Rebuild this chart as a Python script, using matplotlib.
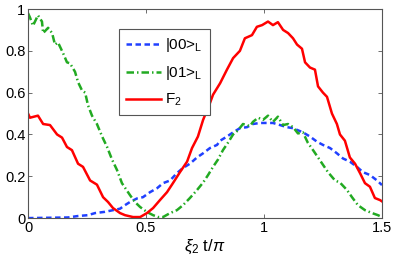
import matplotlib
matplotlib.use("Agg")
import matplotlib.pyplot as plt

plt.rcParams["font.family"] = ["Liberation Sans", "DejaVu Sans"]
plt.rcParams["mathtext.fontset"] = "custom"
plt.rcParams["mathtext.rm"] = "Liberation Sans"
plt.rcParams["mathtext.it"] = "Liberation Sans:italic"

# F2 (red, solid)
tF = [0.000, 0.008, 0.042, 0.064, 0.093, 0.123, 0.144, 0.165, 0.186, 0.212,
      0.233, 0.263, 0.292, 0.318, 0.339, 0.360, 0.390, 0.411, 0.445, 0.475,
      0.504, 0.530, 0.559, 0.589, 0.614, 0.644, 0.674, 0.695, 0.720, 0.742,
      0.771, 0.784, 0.814, 0.843, 0.869, 0.898, 0.919, 0.949, 0.970, 0.992,
      1.017, 1.038, 1.059, 1.081, 1.102, 1.123, 1.140, 1.161, 1.174, 1.195,
      1.216, 1.229, 1.250, 1.267, 1.288, 1.309, 1.322, 1.343, 1.364, 1.386,
      1.407, 1.428, 1.449, 1.470, 1.492, 1.500]
F2 = [0.50, 0.48, 0.49, 0.45, 0.445, 0.40, 0.385, 0.34, 0.325, 0.26,
      0.245, 0.18, 0.16, 0.10, 0.077, 0.048, 0.024, 0.014, 0.005, 0.005,
      0.024, 0.048, 0.086, 0.124, 0.167, 0.22, 0.27, 0.335, 0.39, 0.47,
      0.55, 0.59, 0.645, 0.71, 0.765, 0.80, 0.86, 0.875, 0.915, 0.923,
      0.94, 0.923, 0.937, 0.90, 0.885, 0.86, 0.83, 0.81, 0.745, 0.72,
      0.71, 0.63, 0.60, 0.58, 0.50, 0.45, 0.40, 0.37, 0.29, 0.26,
      0.215, 0.167, 0.15, 0.096, 0.086, 0.08]

# |01>_L (green, dash-dot)
t01 = [0.000, 0.008, 0.021, 0.042, 0.059, 0.064, 0.085, 0.102, 0.114, 0.127,
       0.148, 0.165, 0.178, 0.199, 0.212, 0.229, 0.242, 0.254, 0.271, 0.292,
       0.314, 0.335, 0.356, 0.377, 0.398, 0.432, 0.453, 0.475, 0.504, 0.530,
       0.551, 0.572, 0.602, 0.631, 0.657, 0.686, 0.716, 0.742, 0.763, 0.784,
       0.805, 0.826, 0.847, 0.869, 0.890, 0.911, 0.941, 0.953, 0.975, 0.996,
       1.017, 1.038, 1.059, 1.081, 1.102, 1.123, 1.144, 1.165, 1.186, 1.208,
       1.229, 1.250, 1.271, 1.301, 1.322, 1.352, 1.373, 1.398, 1.428, 1.458,
       1.483, 1.500]
P01 = [0.98, 0.96, 0.92, 0.97, 0.94, 0.885, 0.91, 0.885, 0.83, 0.84,
       0.79, 0.745, 0.74, 0.70, 0.65, 0.61, 0.60, 0.54, 0.49, 0.45,
       0.39, 0.34, 0.28, 0.23, 0.167, 0.11, 0.077, 0.053, 0.029, 0.014,
       0.005, 0.005, 0.024, 0.038, 0.062, 0.096, 0.134, 0.17, 0.206, 0.245,
       0.28, 0.325, 0.36, 0.40, 0.42, 0.45, 0.44, 0.46, 0.48, 0.47,
       0.49, 0.46, 0.485, 0.445, 0.45, 0.435, 0.405, 0.41, 0.36, 0.325,
       0.29, 0.255, 0.22, 0.18, 0.17, 0.134, 0.10, 0.062, 0.038, 0.024,
       0.014, 0.005]

# |00>_L (blue, dashed)
t00 = [0.000, 0.169, 0.212, 0.254, 0.284, 0.326, 0.369, 0.390, 0.411, 0.432,
       0.462, 0.487, 0.517, 0.547, 0.572, 0.602, 0.631, 0.657, 0.686, 0.716,
       0.742, 0.771, 0.801, 0.814, 0.843, 0.869, 0.898, 0.928, 0.953, 0.983,
       1.013, 1.038, 1.068, 1.097, 1.123, 1.165, 1.195, 1.225, 1.250, 1.280,
       1.309, 1.335, 1.364, 1.394, 1.419, 1.449, 1.479, 1.500]
P00 = [0.0, 0.003, 0.01, 0.014, 0.024, 0.03, 0.04, 0.045, 0.062, 0.077,
       0.094, 0.10, 0.124, 0.143, 0.167, 0.18, 0.215, 0.24, 0.26, 0.29,
       0.31, 0.335, 0.35, 0.37, 0.39, 0.41, 0.43, 0.435, 0.45, 0.455,
       0.455, 0.455, 0.445, 0.435, 0.43, 0.41, 0.39, 0.365, 0.35, 0.335,
       0.31, 0.285, 0.27, 0.245, 0.22, 0.206, 0.18, 0.158]

xticks = [0, 0.5, 1, 1.5]
xticklabels = ["0", "0.5", "1", "1.5"]
yticks = [0, 0.2, 0.4, 0.6, 0.8, 1]
yticklabels = ["0", "0.2", "0.4", "0.6", "0.8", "1"]

fig = plt.figure(figsize=(3.95, 2.65), dpi=100)
ax = fig.add_axes([0.071, 0.177, 0.896, 0.789])

ax.plot(t00, P00, color="#2040ff", lw=1.8, ls=(0, (2.2, 1.4)), label=r"|00>$_\mathrm{L}$")
ax.plot(t01, P01, color="#22aa22", lw=1.8, ls=(0, (3, 1.2, 0.6, 1.2)), label=r"|01>$_\mathrm{L}$")
ax.plot(tF, F2, color="#ff0000", lw=1.8, label=r"F$_\mathrm{2}$")

ax.set_xlim(0, 1.5)
ax.set_ylim(0, 1)
ax.set_xticks(xticks)
ax.set_xticklabels(xticklabels)
ax.set_yticks(yticks)
ax.set_yticklabels(yticklabels)
ax.tick_params(direction="in", top=True, right=True, labelsize=10.5, length=3,
               width=0.6, color="#555555", pad=2)
for s in ax.spines.values():
    s.set_color("#555555")
    s.set_linewidth(0.8)

ax.set_xlabel(r"$\xi_2$ t/$\pi$", fontsize=12, labelpad=2)

leg = ax.legend(loc="upper left", bbox_to_anchor=(0.235, 0.94), fontsize=11,
                handlelength=2.3, handletextpad=0.3, labelspacing=0.65,
                borderpad=0.45, fancybox=False, framealpha=1)
leg.get_frame().set_edgecolor("#555555")
leg.get_frame().set_linewidth(0.8)

fig.savefig("out.png", dpi=100)
